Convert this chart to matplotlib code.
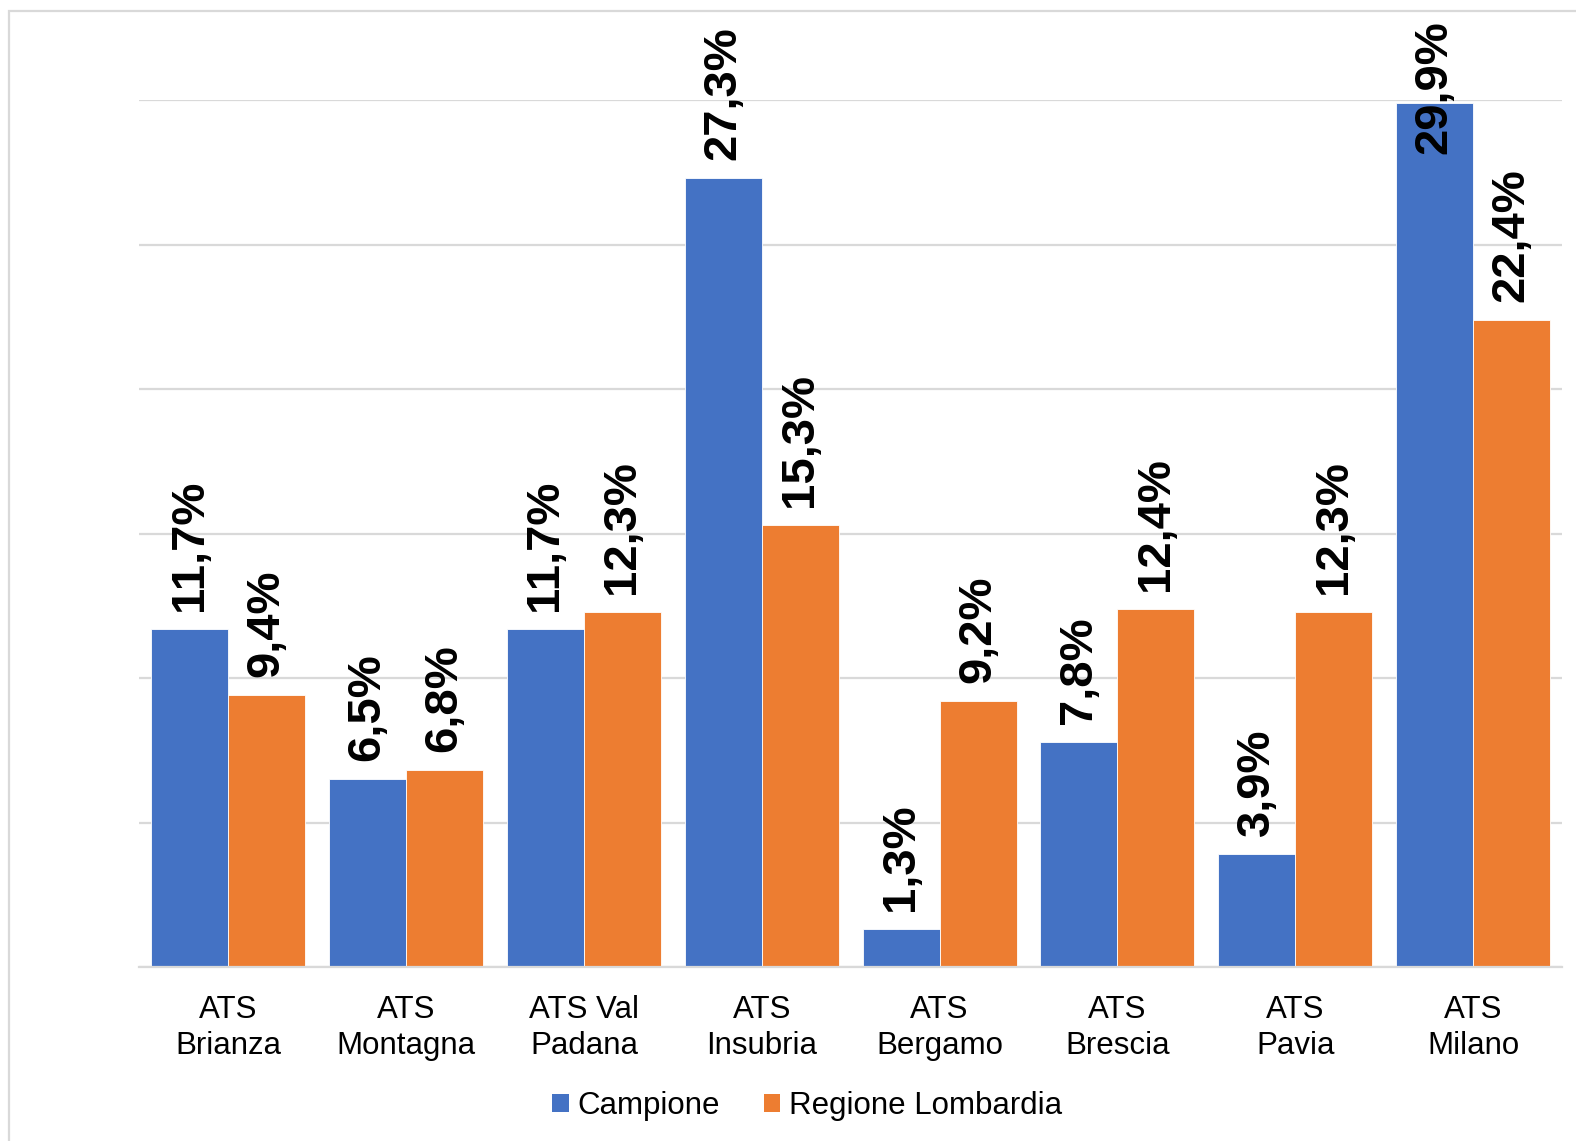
import matplotlib
matplotlib.use("Agg")
import matplotlib.pyplot as plt
import numpy as np
from matplotlib.patches import Rectangle, Patch

categories = ["ATS\nBrianza", "ATS\nMontagna", "ATS Val\nPadana", "ATS\nInsubria",
              "ATS\nBergamo", "ATS\nBrescia", "ATS\nPavia", "ATS\nMilano"]
campione = [11.7, 6.5, 11.7, 27.3, 1.3, 7.8, 3.9, 29.9]
regione = [9.4, 6.8, 12.3, 15.3, 9.2, 12.4, 12.3, 22.4]
series_names = ["Campione", "Regione Lombardia"]
colors = ["#4472C4", "#ED7D31"]

plt.rcParams['font.family'] = ['Liberation Sans', 'DejaVu Sans']

W, H = 1576, 1141
fig = plt.figure(figsize=(W / 100, H / 100), dpi=100)
fig.patch.set_facecolor("white")
# outer border
fig.add_artist(Rectangle((9 / W, -0.01), 1.0, (H - 11) / H + 0.01, transform=fig.transFigure,
                         fill=False, edgecolor="#d9d9d9", linewidth=1.6, clip_on=False))

left, right = 139.3 / W, 1562 / W
bottom, top = (H - 967) / H, (H - 100) / H
ax = fig.add_axes([left, bottom, right - left, top - bottom])

x = np.arange(len(categories))
bw = 0.433
b1 = ax.bar(x - bw / 2, campione, bw, color=colors[0], edgecolor="white", linewidth=0.6, zorder=3)
b2 = ax.bar(x + bw / 2, regione, bw, color=colors[1], edgecolor="white", linewidth=0.6, zorder=3)

ax.set_xlim(-0.5, len(categories) - 0.5)
ax.set_ylim(0, 30)
ax.set_yticks(np.arange(0, 31, 5))
ax.yaxis.grid(True, color="#d9d9d9", linewidth=1.6, zorder=0)
ax.tick_params(axis="y", length=0, labelleft=False)
ax.tick_params(axis="x", length=0, labelsize=22.5, pad=20)
ax.set_xticks(x)
ax.set_xticklabels(categories, linespacing=1.28)
for s in ["top", "right", "left"]:
    ax.spines[s].set_visible(False)
ax.spines["bottom"].set_color("#d9d9d9")
ax.spines["bottom"].set_linewidth(1.6)
ax.spines["bottom"].set_zorder(4)

texts = []
for bars, vals in [(b1, campione), (b2, regione)]:
    for rect, v in zip(bars, vals):
        cx = rect.get_x() + rect.get_width() / 2
        t = ax.annotate(f"{v:.1f}%".replace(".", ","), xy=(cx, v), xytext=(0, 18),
                        textcoords="offset pixels", rotation=90, ha="center", va="bottom",
                        fontsize=34, fontweight="bold", color="black", zorder=5,
                        annotation_clip=False)
        texts.append(t)

fig.canvas.draw()
renderer = fig.canvas.get_renderer()
for t in texts:
    bb = t.get_window_extent(renderer)
    if bb.y1 > H - 20:
        # shift label down so it fits inside the chart area
        shift = bb.y1 - (H - 20)
        t.xyann = (0, 18 - shift)

handles = [Patch(facecolor=c, edgecolor="none") for c in colors]
fig.legend(handles, series_names, loc="center", bbox_to_anchor=(807 / W, (H - 1106) / H),
           ncol=2, frameon=False, fontsize=22.5, handlelength=0.54, handleheight=0.54,
           handletextpad=0.26, columnspacing=1.4, borderpad=0, borderaxespad=0)

fig.savefig("out.png", dpi=100, facecolor="white")
